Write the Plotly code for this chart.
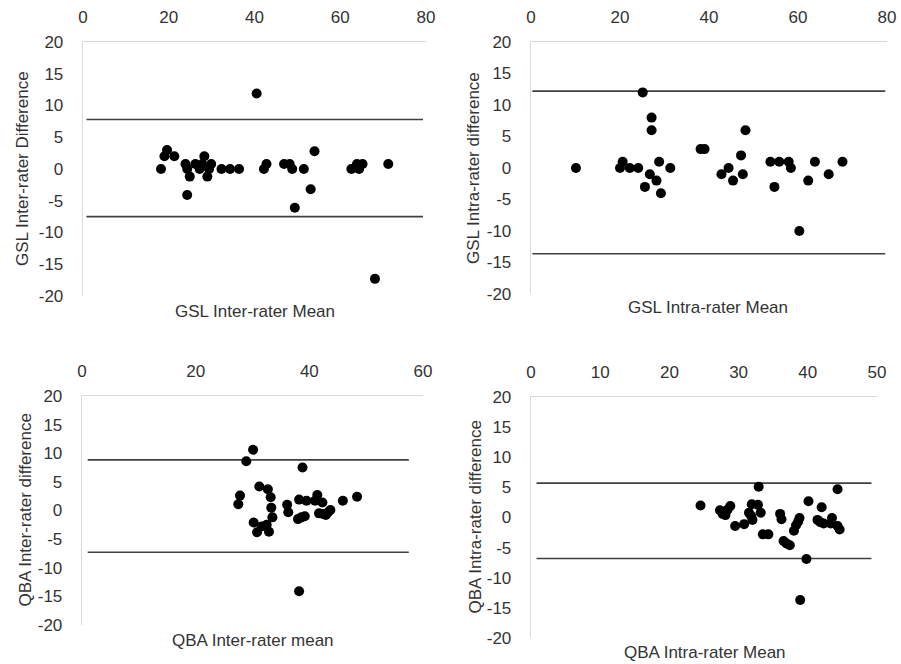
import plotly.graph_objects as go

# ---------------- data ----------------
# Panel 1: GSL inter-rater
gsl_inter_mean = [18.2, 19.0, 19.6, 21.3, 23.9, 24.3, 24.9, 24.3, 26.2, 27.2, 27.8, 28.3, 29.0,
                  29.4, 29.9, 32.3, 34.3, 36.4, 40.5, 42.2, 42.8, 46.9, 48.2, 48.8, 49.4,
                  51.5, 53.1, 54.0, 62.6, 63.9, 64.4, 65.2, 68.1, 71.2]
gsl_inter_diff = [0, 2, 3, 2, 0.8, 0, -1.2, -4.1, 0.8, 0, 0.8, 2, -1.2,
                  0, 0.8, 0, 0, 0, 11.9, 0, 0.8, 0.8, 0.8, 0, -6.1,
                  0, -3.2, 2.8, 0, 0.8, 0, 0.8, -17.3, 0.8]
gsl_inter_limits = [7.8, -7.5]
gsl_inter_span = [0.8, 79.3]

# Panel 2: GSL intra-rater
gsl_intra_mean = [10.1, 20.0, 20.6, 22.2, 24.1, 25.1, 25.6, 26.7, 27.1, 27.1, 28.2, 28.8, 29.2,
                  31.3, 38.1, 39.0, 42.8, 44.4, 45.4, 47.2, 47.6, 48.2, 53.8, 54.7, 55.8,
                  57.9, 58.4, 60.3, 62.3, 63.8, 66.9, 70.0]
gsl_intra_diff = [0, 0, 1, 0, 0, 12, -3, -1, 8, 6, -2, 1, -4,
                  0, 3, 3, -1, 0, -2, 2, -1, 6, 1, -3, 1,
                  1, 0, -10, -2, 1, -1, 1]
gsl_intra_limits = [12.2, -13.6]
gsl_intra_span = [0.3, 79.6]

# Panel 3: QBA inter-rater
qba_inter_mean = [30.1, 28.9, 27.8, 27.5, 31.2, 32.7, 33.2, 33.3, 33.5, 30.2, 30.8, 31.6, 32.5,
                  32.9, 36.1, 36.3, 38.2, 38.8, 38.0, 38.6, 39.2, 39.5, 41.0, 41.4, 42.3,
                  41.7, 42.4, 42.9, 43.3, 43.7, 45.9, 48.4, 38.2]
qba_inter_diff = [10.6, 8.6, 2.6, 1.1, 4.2, 3.7, 2.3, 0.5, -1.2, -2.1, -3.8, -2.8, -2.5,
                  -3.7, 1.0, -0.3, 1.9, 7.5, -1.5, -1.2, -1.0, 1.7, 1.7, 2.7, 1.4,
                  -0.5, -0.6, -0.8, -0.3, 0.1, 1.7, 2.4, -14.1]
qba_inter_limits = [8.85, -7.3]
qba_inter_span = [1.0, 57.5]

# Panel 4: QBA intra-rater
qba_intra_mean = [24.5, 27.3, 27.7, 28.1, 28.4, 28.8, 29.5, 30.8, 31.5, 31.8, 32.0, 31.9, 32.8,
                  32.9, 33.2, 33.5, 34.3, 36.0, 36.2, 36.5, 36.9, 37.4, 38.0, 38.3, 38.6,
                  38.8, 40.1, 39.8, 38.9, 41.4, 41.8, 42.0, 42.3, 43.3, 43.5, 44.3, 44.3, 44.6]
qba_intra_diff = [2.0, 1.2, 0.6, 0.4, 1.3, 1.9, -1.4, -1.1, 0.8, 0.3, -0.4, 2.2, 2.1,
                  5.1, 0.8, -2.8, -2.8, 0.6, -0.3, -3.9, -4.3, -4.6, -2.2, -1.3, -0.7,
                  -0.1, 2.7, -6.9, -13.7, -0.4, -0.8, 1.7, -1.0, -1.0, -0.1, 4.7, -1.4, -2.0]
qba_intra_limits = [5.7, -6.8]
qba_intra_span = [0.8, 49.2]

# y tick labels (hyphen-minus as in the original)
y_tick_vals = [20, 15, 10, 5, 0, -5, -10, -15, -20]
y_tick_text = ["20", "15", "10", "5", "0", "-5", "-10", "-15", "-20"]

x_ranges = [[0, 80], [0, 80], [0, 60], [0, 50]]
x_dticks = [20, 20, 20, 10]
x_titles = ["GSL Inter-rater Mean", "GSL Intra-rater Mean", "QBA Inter-rater mean", "QBA Intra-rater Mean"]
y_titles = ["GSL Inter-rater Difference", "GSL Intra-rater difference",
            "QBA Inter-rater difference", "QBA Intra-rater difference"]

panels = [
    (gsl_inter_mean, gsl_inter_diff, gsl_inter_limits, gsl_inter_span),
    (gsl_intra_mean, gsl_intra_diff, gsl_intra_limits, gsl_intra_span),
    (qba_inter_mean, qba_inter_diff, qba_inter_limits, qba_inter_span),
    (qba_intra_mean, qba_intra_diff, qba_intra_limits, qba_intra_span),
]

# ---------------- layout (pixel boxes, in window coordinates) ----------------
W, H = 901, 664
# (left, right, top, bottom) of plot area in window pixels
boxes = [(83, 426, 42, 296), (531, 887, 42, 294), (82, 423, 396, 625), (531, 877, 397, 638)]
ytitle_x = [22, 473, 25, 475]
xtitle_pos = [(255, 311), (708, 307), (253, 640), (705, 652)]

FONT = "Liberation Sans"
TXT = "#333333"
FS = 17


def px(x):
    return x / W


def py(y):
    return 1 - y / H


fig = go.Figure()
layout = dict(
    template="none",
    width=W, height=H, margin=dict(l=0, r=0, t=0, b=0, pad=0),
    paper_bgcolor="white", plot_bgcolor="white", showlegend=False,
    font=dict(family=FONT, size=FS, color=TXT),
)
annotations = []
for i, ((xs, ys, lim, span), (l, r, t, b)) in enumerate(zip(panels, boxes)):
    n = "" if i == 0 else str(i + 1)
    xa, ya = "x" + n, "y" + n
    for v in lim:
        fig.add_trace(go.Scatter(x=span, y=[v, v], mode="lines", xaxis=xa, yaxis=ya,
                                 line=dict(color="#404040", width=1.6), hoverinfo="skip"))
    fig.add_trace(go.Scatter(x=xs, y=ys, mode="markers", xaxis=xa, yaxis=ya,
                             marker=dict(color="black", size=10, line=dict(width=0))))
    layout["xaxis" + n] = dict(
        domain=[px(l), px(r)], anchor=ya, range=x_ranges[i], dtick=x_dticks[i], tick0=0,
        side="top", showgrid=False, zeroline=False, showline=True, automargin=False,
        linecolor="#d9d9d9", linewidth=1.3, ticks="", ticklabelstandoff=11,
        ticklabeloverflow="allow",
        tickfont=dict(family=FONT, size=FS, color=TXT), fixedrange=True,
    )
    layout["yaxis" + n] = dict(
        domain=[py(b), py(t)], anchor=xa, range=[-20, 20],
        tickmode="array", tickvals=y_tick_vals, ticktext=y_tick_text,
        showgrid=False, zeroline=False, showline=True, automargin=False,
        linecolor="#d9d9d9", linewidth=1.3, ticks="", ticklabelstandoff=15,
        tickfont=dict(family=FONT, size=FS, color=TXT), fixedrange=True,
    )
    annotations.append(dict(text=y_titles[i], textangle=-90, xref="paper", yref="paper",
                            x=px(ytitle_x[i]), y=py((t + b) / 2), showarrow=False,
                            xanchor="center", yanchor="middle",
                            font=dict(family=FONT, size=FS, color=TXT)))
    annotations.append(dict(text=x_titles[i], xref="paper", yref="paper",
                            x=px(xtitle_pos[i][0]), y=py(xtitle_pos[i][1]), showarrow=False,
                            xanchor="center", yanchor="middle",
                            font=dict(family=FONT, size=FS, color=TXT)))
layout["annotations"] = annotations
fig.update_layout(**layout)
fig.write_html("out.html",
               config={"displayModeBar": False, "staticPlot": True},
               post_script="document.body.style.margin='0';document.body.style.overflow='hidden';")
